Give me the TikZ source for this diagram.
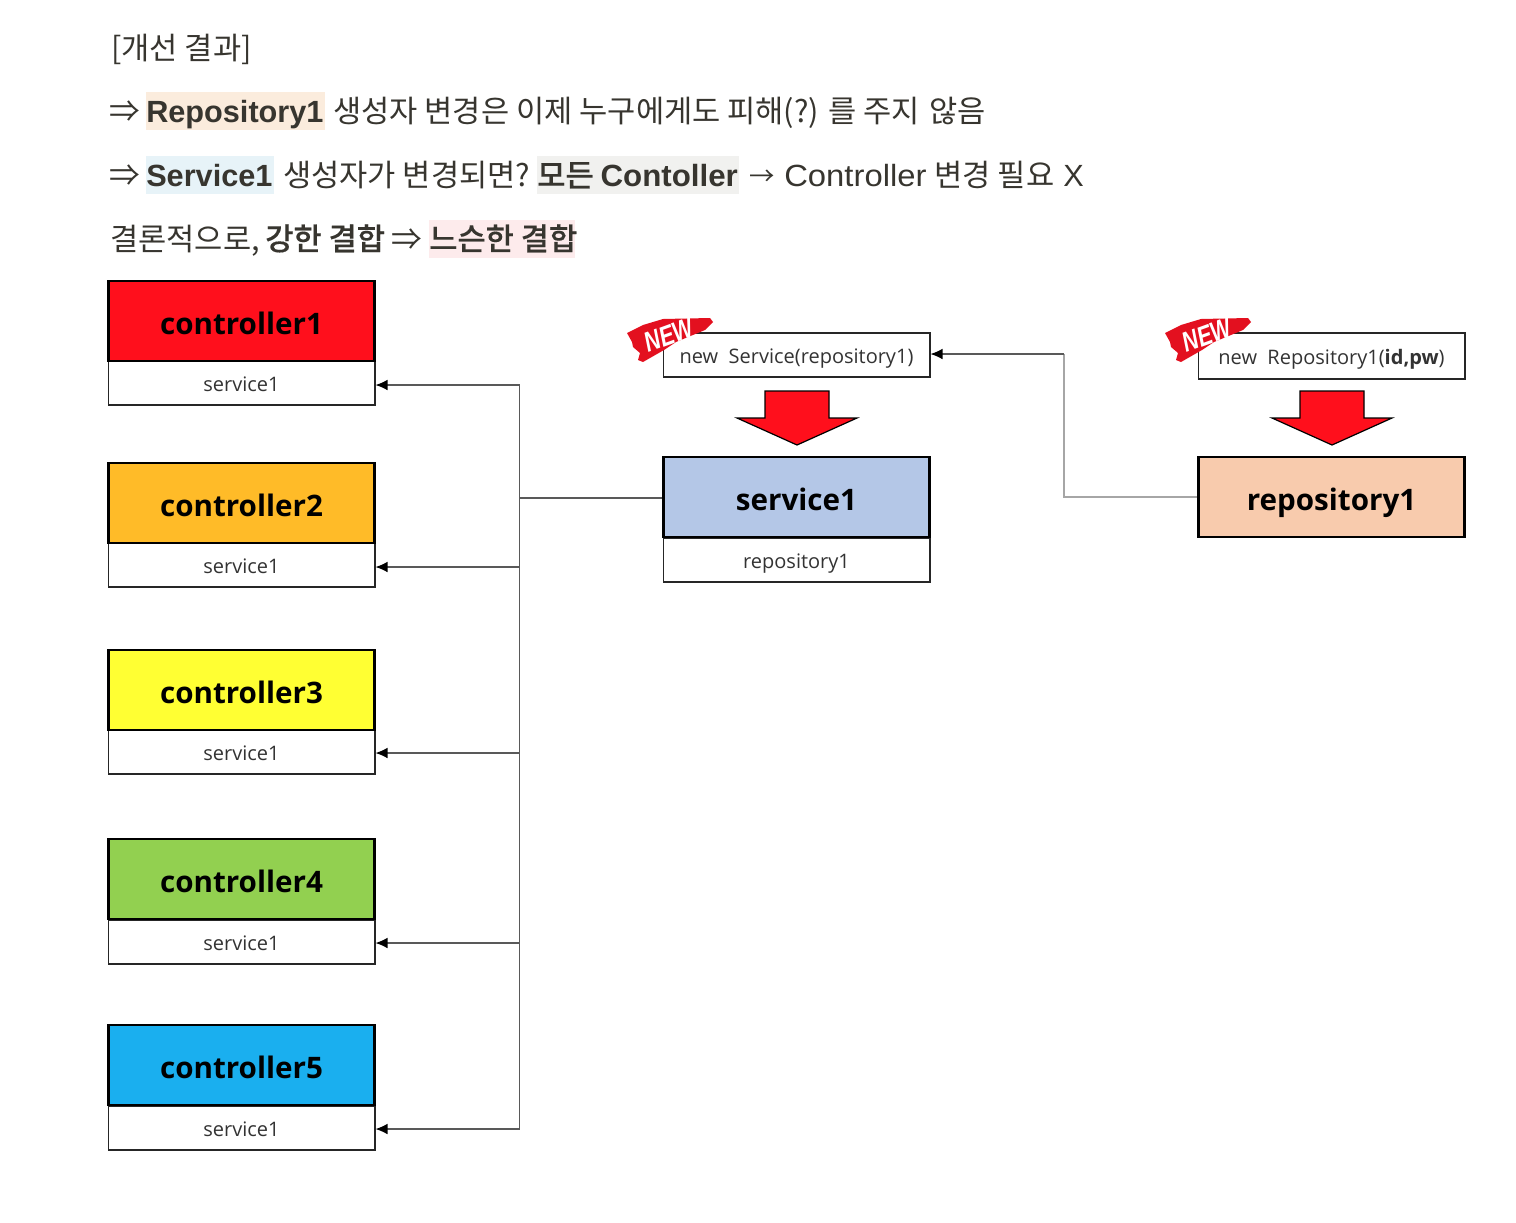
\documentclass[tikz,border=0pt]{standalone}
\usepackage{graphicx}
\usepackage{fontspec}
\setmainfont{Noto Sans CJK KR}
\newfontfamily\medium[FakeBold=0.25]{Noto Sans CJK KR Medium}
\newfontfamily\diag{Open Sans}
\newfontfamily\lat{Liberation Sans}
\usetikzlibrary{arrows.meta}
\definecolor{ink}{HTML}{37352F}
\definecolor{hlpeach}{HTML}{FBECDD}
\definecolor{hlblue}{HTML}{E7F3F8}
\definecolor{hlgrey}{HTML}{F1F1EF}
\definecolor{hlpink}{HTML}{FDEBEC}
\definecolor{cred}{HTML}{FF0F1C}
\definecolor{corange}{HTML}{FFBB28}
\definecolor{cyellow}{HTML}{FFFF33}
\definecolor{cgreen}{HTML}{92D050}
\definecolor{cblue}{HTML}{1AAFEF}
\definecolor{csvc}{HTML}{B4C7E7}
\definecolor{crepo}{HTML}{F8CBAD}
\definecolor{badge}{HTML}{E3101F}
\tikzset{
  x=0.75pt,y=-0.75pt,
  line/.style={anchor=base west,inner sep=0pt,text=ink,font=\fontsize{23}{26}\selectfont},
  boldline/.style={line,font=\medium\fontsize{23}{26}\selectfont},
  head/.style={draw=black,line width=2.2pt,minimum width=200pt,minimum height=60pt,inner sep=0pt,text height=19.5pt,text depth=0pt,font=\diag\bfseries\fontsize{22.2}{27}\selectfont},
  field/.style={draw=black!85,line width=1pt,fill=white,minimum width=200pt,minimum height=33pt,inner sep=0pt,text height=12.5pt,text depth=0pt,font=\diag\fontsize{15}{18}\selectfont,text=black!80},
  conn/.style={draw=black!65,line width=0.9pt},
  arr/.style={conn,-{Latex[length=9pt,width=8pt,black]}},
  lightconn/.style={draw=black!35,line width=1.2pt},
  blockarrow/.style={draw=black,line width=0.9pt,fill=cred,line join=miter},
  brush/.style={fill=badge,draw=none},
  newtxt/.style={text=white,inner sep=0pt,font=\lat\bfseries\itshape\fontsize{21}{22}\selectfont,rotate=20}
}
\begin{document}
\begin{tikzpicture}
\useasboundingbox (0,0) rectangle (1516,1222);
% header highlights
\fill[hlpeach] (146,92) rectangle (325,130);
\fill[hlblue] (146,156) rectangle (274,194);
\fill[hlgrey] (537,156) rectangle (739,194);
\fill[hlpink] (429,220) rectangle (575,258);
% header text
\node[line] (t1) at (111,59) {[개선 결과]};
\node[line] (a1) at (109,122.5) {⇒};
\node[line,font=\lat\bfseries\fontsize{23}{26}\selectfont] (r1) at (146,122.5) {Repository1};
\node[line] (t2) at (333,122.5) {생성자 변경은 이제 누구에게도 피해(?) 를 주지\hspace{2pt} 않음};
\node[line] (a2) at (109,186.5) {⇒};
\node[line,font=\lat\bfseries\fontsize{23}{26}\selectfont] (s1) at (146,186.5) {Service1};
\node[line] (t3) at (283,186.5) {생성자가 변경되면?};
\node[boldline] (m1) at (537,186.5) {모든 {\lat\bfseries\scalebox{1.02}[1]{Contoller}}};
\node[line,font=\fontsize{19}{26}\selectfont] (a3) at (749,185) {→};
\node[line] (t4) at (784,186.5) {{\lat\scalebox{1.07}[1]{Controller}}\hspace{1pt} 변경 필요\hspace{1.5pt} {\lat X}};
\node[line] (t5) at (110,250) {결론적으로,};
\node[boldline] (t6) at (265,250) {강한 결합};
\node[line] (a4) at (391,250) {⇒};
\node[boldline] (t7) at (429,250) {느슨한 결합};
% controllers
\node[field] (f1) at (241.5,383) {service1};
\node[head,fill=cred] (c1) at (241.5,321) {controller1};
\node[field] (f2) at (241.5,565) {service1};
\node[head,fill=corange] (c2) at (241.5,503) {controller2};
\node[field] (f3) at (241.5,752) {service1};
\node[head,fill=cyellow] (c3) at (241.5,690) {controller3};
\node[field] (f4) at (241.5,942) {service1};
\node[head,fill=cgreen] (c4) at (241.5,879) {controller4};
\node[field] (f5) at (241.5,1128) {service1};
\node[head,fill=cblue] (c5) at (241.5,1065) {controller5};
% service
\node[field] (f6) at (796.5,560) {repository1};
\node[head,fill=csvc] (svc) at (796.5,497) {service1};
% repository
\node[head,fill=crepo] (repo) at (1331.5,497) {repository1\hspace{4pt}};
% new boxes
\node[field] (ns) at (796.5,355) {new\ \ Service(repository1)};
\node[field,minimum height=34.5pt] (nr) at (1331.5,356) {new\ \ Repository1(\textbf{id,pw})\hspace{3pt}};
% block arrows
\draw[blockarrow] (765,391) -- (829,391) -- (829,418) -- (857,418) -- (797,445) -- (737,418) -- (765,418) -- cycle;
\draw[blockarrow] (1300,391) -- (1364,391) -- (1364,418) -- (1392,418) -- (1332,445) -- (1272,418) -- (1300,418) -- cycle;
% badges
\foreach \bx/\nm in {0/bn1,538/bn2}{
  \begin{scope}[xshift=\bx*0.75pt]
  \fill[brush] (627,333) -- (643,325) -- (663,319) -- (710,318) -- (713,322) -- (705,330) -- (676,342) -- (664,350) -- (643,362) -- (638,360) -- (640,353) -- (633,347) -- (632,342) -- cycle;
  \node[newtxt] (\nm) at (669,335) {\scalebox{0.77}[1]{NEW}};
  \end{scope}
}
% connectors
\coordinate (junc) at (519.5,498);
\draw[conn] (svc.west |- junc) -- (junc);
\draw[arr] (junc) |- ([yshift=-1.5pt]f1.east);
\draw[arr] (junc) |- ([yshift=-1.5pt]f2.east);
\draw[arr] (junc) |- ([yshift=-0.75pt]f3.east);
\draw[arr] (junc) |- ([yshift=-0.75pt]f4.east);
\draw[arr] (junc) |- ([yshift=-0.75pt]f5.east);
\coordinate (bend) at (1064,497);
\coordinate (top) at (1064,354);
\draw[lightconn] (repo.west) -- (bend) -- (top);
\draw[arr] (top) -- ([yshift=0.75pt]ns.east);
\end{tikzpicture}
\end{document}
